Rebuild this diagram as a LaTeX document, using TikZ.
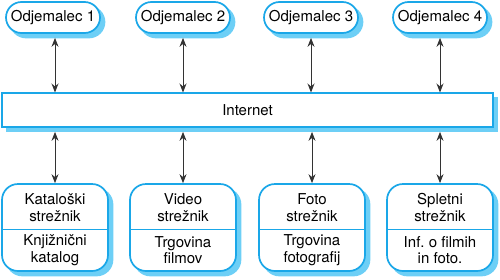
\documentclass[tikz,border=0pt]{standalone}
\usepackage{fontspec}
\setmainfont{TeX Gyre Heros}
\usetikzlibrary{calc,arrows.meta,shapes.misc}
\frenchspacing
\definecolor{edgeblue}{HTML}{1AA7E8}
\definecolor{shadeblue}{HTML}{6DCFF6}
\definecolor{arrowgray}{HTML}{333333}
\newcommand{\labelfont}{\fontsize{15}{16.5}\selectfont}
\tikzset{
  x=1pt, y=1pt,
  boxline/.style={draw=edgeblue, line width=1.7pt, fill=white},
  backdrop/.style={draw=shadeblue, line width=1.7pt, fill=shadeblue},
  clientshape/.style={rounded rectangle, minimum width=94pt, minimum height=31pt, inner sep=0pt, font=\labelfont},
  netshape/.style={rectangle, minimum width=491pt, minimum height=34pt, inner sep=0pt, font=\labelfont},
  servershape/.style={rectangle, rounded corners=16pt, minimum width=106pt, minimum height=87pt, inner sep=0pt},
  textlabel/.style={align=center, inner sep=0pt, font=\labelfont},
  link/.style={draw=arrowgray, line width=0.9pt, {Stealth[length=9pt,width=7pt]}-{Stealth[length=9pt,width=7pt]}},
  divider/.style={draw=edgeblue, line width=0.9pt}
}
\begin{document}
\begin{tikzpicture}
\useasboundingbox (0,0) rectangle (500,-279);

% drop shadows, offset down and right
\foreach \x/\n in {53/1,183/2,311/3,440/4}
  \node[clientshape, backdrop] (cs\n) at (\x+4.5,-22) {};
\node[netshape, backdrop] (nets) at (252,-114.5) {};
\foreach \x/\n in {55/1,183/2,312/3,440/4}
  \node[servershape, backdrop] (ss\n) at (\x+4.5,-232) {};

% clients
\node[clientshape, boxline] (c1) at (53,-17.5) {Odjemalec 1};
\node[clientshape, boxline] (c2) at (183,-17.5) {Odjemalec 2};
\node[clientshape, boxline] (c3) at (311,-17.5) {Odjemalec 3};
\node[clientshape, boxline] (c4) at (440,-17.5) {Odjemalec 4};

% network
\node[netshape, boxline] (net) at (247.5,-110) {Internet};

% servers
\node[servershape, boxline] (s1) at (55,-227.5) {};
\node[servershape, boxline] (s2) at (183,-227.5) {};
\node[servershape, boxline] (s3) at (312,-227.5) {};
\node[servershape, boxline] (s4) at (440,-227.5) {};

\foreach \s in {s1,s2,s3,s4}{
  \draw[divider] ($(\s.west)+(0,-1.5)$) -- ($(\s.east)+(0,-1.5)$);
}

\node[textlabel] (s1a) at (55,-207.5) {Kataloški\\strežnik};
\node[textlabel] (s1b) at (55,-250) {Knjižnični\\katalog};
\node[textlabel] (s2a) at (183,-207.5) {Video\\strežnik};
\node[textlabel] (s2b) at (183,-250) {Trgovina\\filmov};
\node[textlabel] (s3a) at (312,-207.5) {Foto\\strežnik};
\node[textlabel] (s3b) at (312,-250) {Trgovina\\fotografij};
\node[textlabel] (s4a) at (440,-207.5) {Spletni\\strežnik};
\node[textlabel] (s4b) at (440,-250) {Inf.\ o filmih\\in foto.};

% links
\coordinate (t1) at (55,-92.5);
\coordinate (t2) at (183,-92.5);
\coordinate (t3) at (311,-92.5);
\coordinate (t4) at (440,-92.5);
\draw[link] ($(c1.south)+(2,-4)$) -- (t1);
\draw[link] ($(c2.south)+(0,-4)$) -- (t2);
\draw[link] ($(c3.south)+(0,-4)$) -- (t3);
\draw[link] ($(c4.south)+(0,-4)$) -- (t4);

\draw[link] (net.south -| s1.north) ++(0,-4) -- (s1.north);
\draw[link] (net.south -| s2.north) ++(0,-4) -- (s2.north);
\draw[link] (net.south -| s3.north) ++(0,-4) -- (s3.north);
\draw[link] (net.south -| s4.north) ++(0,-4) -- (s4.north);
\end{tikzpicture}
\end{document}
